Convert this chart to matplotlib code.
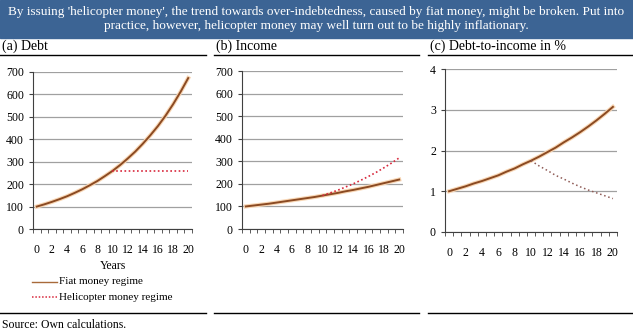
import matplotlib.pyplot as plt
import matplotlib.patheffects as pe
from matplotlib.patches import Rectangle
from matplotlib.lines import Line2D

plt.rcParams['font.family'] = ['Liberation Serif', 'DejaVu Serif']

years = list(range(21))
debt_fiat = [100, 110, 121, 133, 146, 161, 177, 195, 214, 236, 259,
             285, 314, 345, 380, 418, 459, 505, 556, 612, 673]
debt_heli_years = list(range(10, 21))
debt_heli = [259] * 11

income_fiat = [100, 104, 108, 112, 117, 122, 127, 132, 137, 142, 148,
               154, 160, 167, 173, 180, 187, 195, 203, 211, 219]
income_heli_years = list(range(10, 21))
income_heli = [148, 160, 172, 186, 200, 216, 233, 251, 271, 292, 315]

ratio_fiat = [1.00, 1.06, 1.12, 1.19, 1.25, 1.32, 1.39, 1.48, 1.56, 1.66, 1.75,
              1.85, 1.96, 2.07, 2.20, 2.32, 2.45, 2.59, 2.74, 2.90, 3.07]
ratio_heli_years = list(range(10, 21))
ratio_heli = [1.75, 1.62, 1.51, 1.39, 1.30, 1.20, 1.11, 1.03, 0.96, 0.89, 0.82]

title = ("By issuing 'helicopter money', the trend towards over-indebtedness, caused by fiat money, might be broken. Put into\n"
         "practice, however, helicopter money may well turn out to be highly inflationary.")
headers = ["(a) Debt", "(b) Income", "(c) Debt-to-income in %"]

W, H = 633, 335
fig = plt.figure(figsize=(W / 100, H / 100), dpi=100)

def px_axes(l, t, r, b):
    return fig.add_axes([l / W, 1 - b / H, (r - l) / W, (b - t) / H])

# banner
fig.patches.append(Rectangle((0, 1 - 38 / H), 1, 38 / H, transform=fig.transFigure,
                             color='#3C6494', zorder=0))
fig.text(0.5, 1 - 19 / H, title, ha='center', va='center', color='white',
         fontsize=9.5, linespacing=1.25)

# headers and rules
spans = [(0, 206), (214, 419), (428, 633)]
for (x0, x1), h in zip(spans, headers):
    fig.text((x0 + 2) / W, 1 - 46 / H, h, ha='left', va='center', fontsize=10)
    for y in (55, 313):
        fig.add_artist(Line2D([x0 / W, x1 / W], [1 - y / H, 1 - y / H],
                              color='black', lw=1, transform=fig.transFigure))
fig.text(2 / W, 1 - 325 / H, "Source: Own calculations.", ha='left', va='center', fontsize=8.5)

fiat_col = '#8B4A22'
heli_col = '#D8283C'
glow = [pe.Stroke(linewidth=3.0, foreground='#F8D6B4'), pe.Normal()]

def setup(ax, ymax, step):
    ax.set_xlim(-0.5, 20.5)
    ax.set_ylim(0, ymax)
    ax.set_yticks([i * step for i in range(int(round(ymax / step)) + 1)])
    ax.set_xticks(range(0, 21, 2))
    ax.set_xticks([i - 0.5 for i in range(22)], minor=True)
    ax.tick_params(axis='x', which='major', length=0, labelsize=8.5, pad=11)
    ax.tick_params(axis='x', which='minor', length=3, direction='out', color='#404040')
    ax.tick_params(axis='y', length=3, direction='out', labelsize=8.5, color='#404040')
    ax.grid(axis='y', color='#A0A0A0', lw=0.9)
    ax.set_axisbelow(True)
    for s in ('top', 'right'):
        ax.spines[s].set_visible(False)
    for s in ('left', 'bottom'):
        ax.spines[s].set_color('#404040')

ax1 = px_axes(33, 72, 192, 229)
setup(ax1, 700, 100)
ax1.plot(years, debt_fiat, color=fiat_col, lw=1.4, path_effects=glow)
ax1.plot(debt_heli_years, debt_heli, color=heli_col, lw=1.2, ls=(0, (1, 1.5)))
ax1.set_xlabel("Years", fontsize=8.5, labelpad=3)

ax2 = px_axes(242, 71, 403, 229)
setup(ax2, 700, 100)
ax2.plot(years, income_fiat, color=fiat_col, lw=1.4, path_effects=glow)
ax2.plot(income_heli_years, income_heli, color=heli_col, lw=1.2, ls=(0, (1, 1.5)))

ax3 = px_axes(445, 69, 617, 232)
setup(ax3, 4, 1)
ax3.plot(years, ratio_fiat, color=fiat_col, lw=1.4, path_effects=glow)
ax3.plot(ratio_heli_years, ratio_heli, color='#8E5A55', lw=1.1, ls=(0, (1, 1.8)))

# legend
fig.add_artist(Line2D([32 / W, 57 / W], [1 - 282 / H] * 2, color='#A86A3A', lw=1.0,
                      transform=fig.transFigure))
fig.add_artist(Line2D([32 / W, 57 / W], [1 - 297 / H] * 2, color=heli_col, lw=1.1,
                      ls=(0, (1, 1.2)), transform=fig.transFigure))
fig.text(59 / W, 1 - 282 / H, "Fiat money regime", ha='left', va='center', fontsize=8)
fig.text(59 / W, 1 - 297 / H, "Helicopter money regime", ha='left', va='center', fontsize=8)

fig.savefig('out.png', dpi=100)
